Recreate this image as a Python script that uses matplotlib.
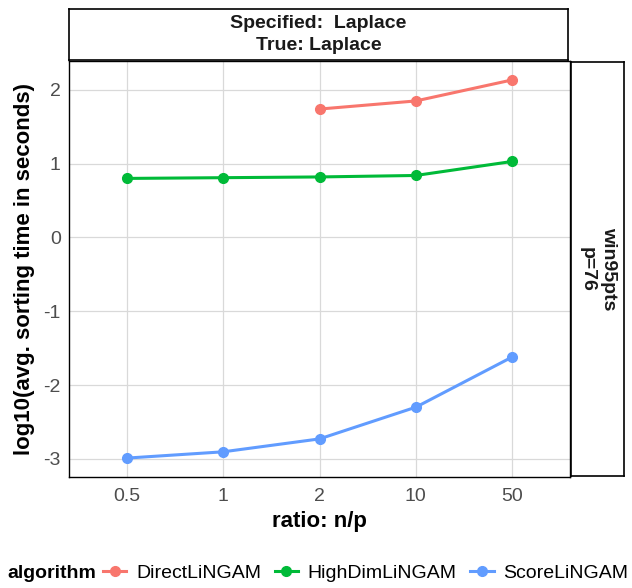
import numpy as np
import matplotlib.pyplot as plt
from matplotlib.lines import Line2D

plt.rcParams['font.family'] = ['Liberation Sans', 'DejaVu Sans']

# Categorías del eje x (ratio n/p)
ratios = ["0.5", "1", "2", "10", "50"]

# log10 del tiempo medio de ordenación por algoritmo
direct_x = ["2", "10", "50"]
direct_y = [1.74, 1.85, 2.135]
highdim_x = ["0.5", "1", "2", "10", "50"]
highdim_y = [0.80, 0.81, 0.82, 0.84, 1.03]
score_x = ["0.5", "1", "2", "10", "50"]
score_y = [-2.99, -2.905, -2.73, -2.30, -1.62]

algoritmos = ["DirectLiNGAM", "HighDimLiNGAM", "ScoreLiNGAM"]
colores = ["#F8766D", "#00BA38", "#619CFF"]
series = [(direct_x, direct_y), (highdim_x, highdim_y), (score_x, score_y)]

W, H = 632, 588
fig = plt.figure(figsize=(W / 100, H / 100), dpi=100)

# Panel principal
px0, px1, py0, py1 = 69, 570, 61, 477
ax = fig.add_axes([px0 / W, 1 - py1 / H, (px1 - px0) / W, (py1 - py0) / H])

pos = {r: i + 1 for i, r in enumerate(ratios)}
for (xs, ys), col, name in zip(series, colores, algoritmos):
    ax.plot([pos[x] for x in xs], ys, color=col, lw=2.2, marker='o', ms=7,
            label=name, zorder=3)

ymin = min(min(s[1]) for s in series)
ymax = max(max(s[1]) for s in series)
pad = 0.05 * (ymax - ymin)
ax.set_ylim(ymin - pad, ymax + pad)
ax.set_xlim(0.4, len(ratios) + 0.6)
ax.set_xticks(range(1, len(ratios) + 1))
ax.set_xticklabels(ratios)
ax.set_yticks([-3, -2, -1, 0, 1, 2])
ax.set_yticklabels(["-3", "-2", "-1", "0", "1", "2"])
ax.grid(True, color='#D9D9D9', lw=0.9)
ax.set_axisbelow(True)
ax.tick_params(length=0, labelsize=14, labelcolor='#4D4D4D')
ax.tick_params(axis='x', pad=8)
ax.tick_params(axis='y', pad=6)
for s in ax.spines.values():
    s.set_color('black')
    s.set_linewidth(1.0)
ax.set_xlabel("ratio: n/p", fontsize=16, fontweight='bold', labelpad=4)
ax.set_ylabel("log10(avg. sorting time in seconds)", fontsize=16,
              fontweight='bold', labelpad=6)

# Cabecera superior del facet
sx = fig.add_axes([69 / W, 1 - 60 / H, (568 - 69) / W, (60 - 9) / H])
sx.set_xticks([]); sx.set_yticks([])
for s in sx.spines.values():
    s.set_linewidth(1.2)
sx.text(0.5, 0.5, "Specified:  Laplace\nTrue: Laplace", ha='center', va='center',
        fontsize=14, fontweight='bold', color='#1A1A1A', linespacing=1.35,
        transform=sx.transAxes)

# Cabecera lateral derecha
sy = fig.add_axes([571 / W, 1 - 476 / H, (624 - 571) / W, (476 - 62) / H])
sy.set_xticks([]); sy.set_yticks([])
for s in sy.spines.values():
    s.set_linewidth(1.2)
sy.text(0.5, 0.5, "win95pts\np=76", ha='center', va='center', rotation=-90,
        fontsize=14, fontweight='bold', color='#1A1A1A', linespacing=1.35,
        transform=sy.transAxes)

# Leyenda inferior
fig.text(7 / W, 1 - 573 / H, "algorithm", fontsize=14, fontweight='bold',
         ha='left', va='center')
handles = [Line2D([0], [0], color=c, lw=2.2, marker='o', ms=7) for c in colores]
fig.legend(handles, algoritmos, loc='center left', bbox_to_anchor=(103 / W, 1 - 573 / H),
           ncol=3, frameon=False, fontsize=14, handlelength=1.2,
           handletextpad=0.5, columnspacing=0.7, borderaxespad=0, borderpad=0)

fig.savefig("out.png", dpi=100)
